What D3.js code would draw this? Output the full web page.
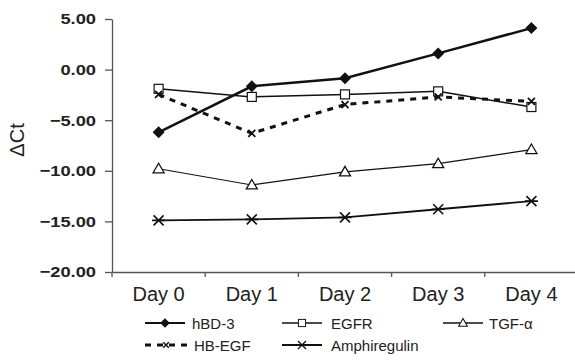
<!DOCTYPE html>
<html><head><meta charset="utf-8">
<script src="https://cdn.jsdelivr.net/npm/d3@7"></script>
<style>body{margin:0;background:#fff}svg{display:block}</style>
</head><body><svg id="c" width="575" height="364"></svg>
<script>
const days = ["Day 0","Day 1","Day 2","Day 3","Day 4"];
const hBD3 = [-6.2, -1.65, -0.85, 1.6, 4.1];
const EGFR = [-1.9, -2.7, -2.45, -2.15, -3.7];
const HBEGF = [-2.45, -6.3, -3.45, -2.7, -3.15];
const TGFa = [-9.8, -11.4, -10.1, -9.3, -7.9];
const amphiregulin = [-14.9, -14.8, -14.6, -13.8, -13.0];
const yTicks = [5, 0, -5, -10, -15, -20];

const series = [
  {name:"hBD-3", values:hBD3, width:2.5, dash:null, marker:"diamond", lw:1.8},
  {name:"EGFR", values:EGFR, width:1.5, dash:null, marker:"square", lw:1.4},
  {name:"TGF-\u03b1", values:TGFa, width:1.2, dash:null, marker:"triangle", lw:1.4},
  {name:"HB-EGF", values:HBEGF, width:3, dash:"6,6", marker:"x", lw:3},
  {name:"Amphiregulin", values:amphiregulin, width:1.8, dash:null, marker:"star", lw:1.8}
];

const svg = d3.select("#c");
const x = d3.scaleBand().domain(days).range([112, 578]);
const y = d3.scaleLinear().domain([-20, 5]).range([272, 19]);
const cx = d => x(d) + x.bandwidth()/2;

function drawMarker(g, type, px, py, s){
  s = s || 1;
  const gg = g.append("g").attr("transform",`translate(${px},${py}) scale(${s})`);
  if(type==="diamond"){
    gg.append("path").attr("d","M0,-6L6,0L0,6L-6,0Z").attr("fill","#111");
  } else if(type==="square"){
    gg.append("rect").attr("x",-4.5).attr("y",-4.5).attr("width",9).attr("height",9).attr("fill","#fff").attr("stroke","#111").attr("stroke-width",1.2);
  } else if(type==="triangle"){
    gg.append("path").attr("d","M0,-5.5L5.5,4L-5.5,4Z").attr("fill","#fff").attr("stroke","#111").attr("stroke-width",1.3);
  } else if(type==="x"){
    gg.append("path").attr("d","M-3.5,-3.5L3.5,3.5M-3.5,3.5L3.5,-3.5").attr("stroke","#111").attr("stroke-width",1.8);
  } else if(type==="star"){
    gg.append("path").attr("d","M-5,-5L5,5M-5,5L5,-5M-6.5,0L6.5,0").attr("stroke","#111").attr("stroke-width",1.6);
  }
}

// axes
const yAxis = svg.append("g").attr("transform","translate(112,0)")
  .call(d3.axisLeft(y).tickValues(yTicks).tickFormat(d3.format(".2f")).tickSize(7).tickSizeOuter(0));
yAxis.select(".domain").attr("stroke","#555").attr("stroke-width",1.3);
yAxis.selectAll(".tick line").attr("stroke","#555").attr("stroke-width",1.3);
yAxis.selectAll(".tick text").attr("font-family","Liberation Sans, Arial, sans-serif").attr("font-weight","bold")
  .attr("font-size",15.5).attr("fill","#222").attr("x",0).attr("transform","translate(-16,0) scale(1.18,1)");

const xAxis = svg.append("g").attr("transform","translate(0,272)")
  .call(d3.axisBottom(x).tickSize(0).tickSizeOuter(0));
xAxis.select(".domain").attr("stroke","#555").attr("stroke-width",1.3);
xAxis.selectAll(".tick text").attr("font-family","Liberation Sans, Arial, sans-serif").attr("font-size",20).attr("fill","#222").attr("dy",0).attr("y",29);
xAxis.selectAll(".btick").data(days).enter().append("line").attr("class","btick")
  .attr("x1",d=>x(d)).attr("x2",d=>x(d)).attr("y1",0).attr("y2",5).attr("stroke","#555").attr("stroke-width",1.3);

svg.append("text").attr("transform","translate(24,140) rotate(-90)").attr("text-anchor","middle")
  .attr("font-family","Liberation Sans, Arial, sans-serif").attr("font-size",20).attr("fill","#222").text("\u0394Ct");

// lines
const line = d3.line().x((d,i)=>cx(days[i])).y(d=>y(d));
const order = [4,2,1,3,0];
order.forEach(k=>{
  const s = series[k];
  svg.append("path").datum(s.values).attr("d",line).attr("fill","none").attr("stroke","#111")
    .attr("stroke-width",s.width).attr("stroke-dasharray",s.dash);
});
order.forEach(k=>{
  const s = series[k];
  const g = svg.append("g");
  s.values.forEach((v,i)=>drawMarker(g, s.marker, cx(days[i]), y(v), 1));
});

// legend
const legendPos = [
  {lx:145, ly:323, tx:192},
  {lx:282, ly:323, tx:331},
  {lx:443, ly:323, tx:489},
  {lx:145, ly:345, tx:194},
  {lx:282, ly:345, tx:331}
];
series.forEach((s,k)=>{
  const p = legendPos[k];
  const g = svg.append("g");
  const len = s.marker==="x" ? 42 : 40;
  g.append("line").attr("x1",p.lx).attr("x2",p.lx+len).attr("y1",p.ly).attr("y2",p.ly)
    .attr("stroke","#111").attr("stroke-width",s.lw).attr("stroke-dasharray",s.dash);
  drawMarker(g, s.marker, p.lx+len/2, p.ly, 0.8);
  g.append("text").attr("x",p.tx).attr("y",p.ly+5.5).attr("font-family","Liberation Sans, Arial, sans-serif")
    .attr("font-size",15).attr("fill","#222").text(s.name);
});
</script></body></html>
